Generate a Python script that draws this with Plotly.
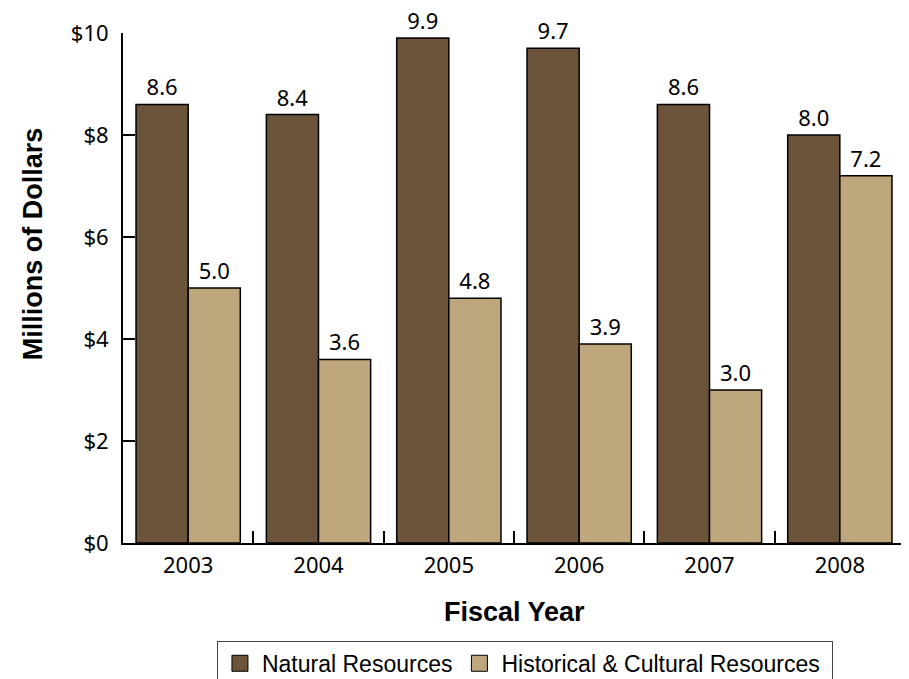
import plotly.graph_objects as go

years = ["2003", "2004", "2005", "2006", "2007", "2008"]
natural = [8.6, 8.4, 9.9, 9.7, 8.6, 8.0]
historical = [5.0, 3.6, 4.8, 3.9, 3.0, 7.2]
y_ticks = [0, 2, 4, 6, 8, 10]
y_tick_labels = ["$0", "$2", "$4", "$6", "$8", "$10"]
series_names = ["Natural Resources", "Historical & Cultural Resources"]
series_colors = ["#6B543A", "#BFA77D"]

tick_font = dict(family="Noto Sans, Open Sans, sans-serif", size=22, color="black")
arial = "Liberation Sans, Arial, sans-serif"

fig = go.Figure()
for name, vals, col in zip(series_names, [natural, historical], series_colors):
    fig.add_trace(go.Bar(
        name=name, x=years, y=vals, showlegend=False,
        marker=dict(color=col, line=dict(color="black", width=1.5)),
        text=[f"{v:.1f}" for v in vals], textposition="outside",
        textfont=tick_font, cliponaxis=False,
    ))
# legend entries with larger square swatches
legend_labels = [series_names[0], series_names[1] + "\u00a0"]
for name, col in zip(legend_labels, series_colors):
    fig.add_trace(go.Scatter(
        name=name, x=[None], y=[None], mode="markers",
        marker=dict(symbol="square", size=16, color=col,
                    line=dict(color="black", width=1)),
        showlegend=True,
    ))

fig.update_layout(
    width=909, height=679,
    margin=dict(l=115, r=12, t=25, b=144, autoexpand=False),
    paper_bgcolor="white", plot_bgcolor="white",
    barmode="group", bargap=0.2, bargroupgap=0,
    legend=dict(
        orientation="h", xref="paper", x=0.514, xanchor="center",
        yref="container", y=0.068, yanchor="top",
        font=dict(family=arial, size=23, color="black"),
        bordercolor="#444", borderwidth=1, bgcolor="white",
        traceorder="normal", itemwidth=34,
    ),
    xaxis=dict(
        showline=True, linecolor="black", linewidth=2,
        ticks="inside", tickson="boundaries", ticklen=12, tickwidth=2, tickcolor="black",
        tickfont=tick_font, showgrid=False, ticklabelstandoff=2,
    ),
    yaxis=dict(
        range=[0, 10], tickvals=y_ticks, ticktext=y_tick_labels,
        showline=True, linecolor="black", linewidth=2,
        ticks="inside", ticklen=12, tickwidth=2, tickcolor="black",
        tickfont=tick_font, showgrid=False, zeroline=False, ticklabelstandoff=8,
    ),
    annotations=[
        dict(text="<b>Millions of Dollars</b>", xref="paper", yref="paper",
             x=-0.115, y=0.586, xanchor="center", yanchor="middle", textangle=-90,
             showarrow=False, font=dict(family=arial, size=27, color="black")),
        dict(text="<b>Fiscal Year</b>", xref="paper", yref="paper",
             x=0.501, y=-0.135, xanchor="center", yanchor="middle",
             showarrow=False, font=dict(family=arial, size=27, color="black")),
    ],
)

fig.write_html("out.html")
